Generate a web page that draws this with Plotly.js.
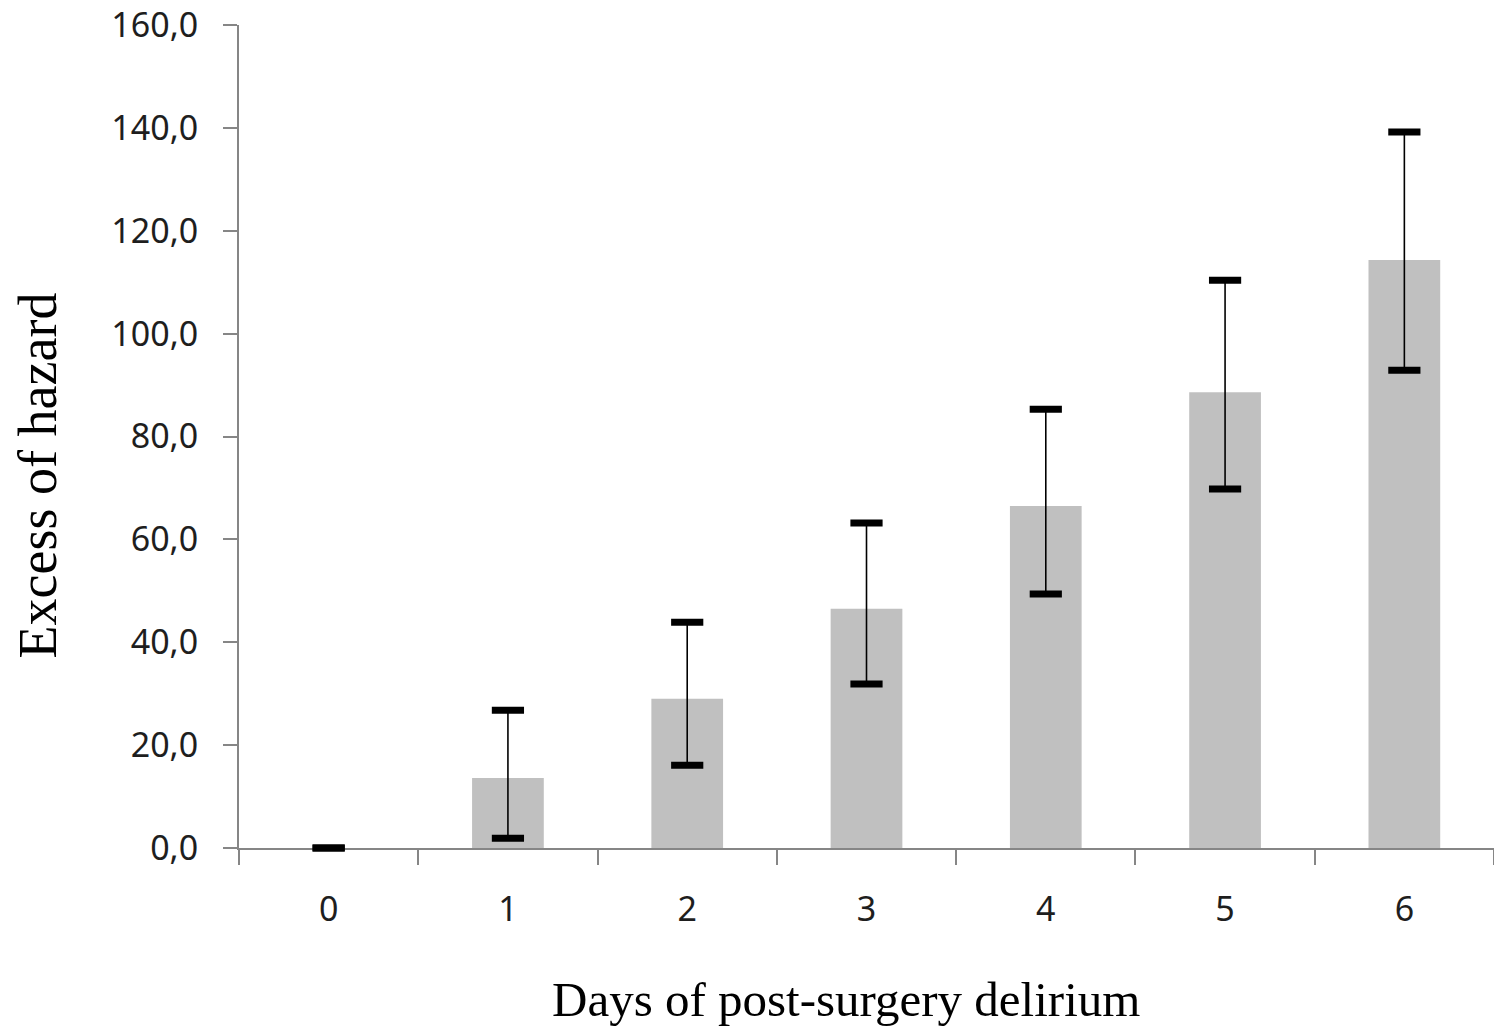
<!DOCTYPE html>
<html>
<head>
<meta charset="utf-8">
<script src="https://cdn.plot.ly/plotly-3.0.1.min.js"></script>
<style>html,body{margin:0;padding:0;background:#fff;}#chart{width:1494px;height:1031px;}</style>
</head>
<body>
<div id="chart"></div>
<script>
const days = ["0", "1", "2", "3", "4", "5", "6"];
const excessHazard = [0, 13.6, 29.0, 46.5, 66.5, 88.6, 114.3];
const upperCI = [0, 26.8, 43.9, 63.2, 85.3, 110.4, 139.2];
const lowerCI = [0, 1.9, 16.1, 31.9, 49.4, 69.8, 92.9];
const yTicks = [0, 20, 40, 60, 80, 100, 120, 140, 160];
const xTitle = "Days of post-surgery delirium";
const yTitle = "Excess of hazard";

const bars = {
  type: "bar",
  x: days,
  y: excessHazard,
  width: 0.4,
  marker: {color: "#c0c0c0"},
  error_y: {
    type: "data",
    array: excessHazard.map((v, i) => upperCI[i] - v),
    arrayminus: excessHazard.map((v, i) => v - lowerCI[i]),
    visible: true,
    color: "#000000",
    thickness: 1.6,
    width: 0
  },
  hoverinfo: "skip",
  showlegend: false
};

const caps = {
  type: "scatter",
  mode: "markers",
  x: days.concat(days),
  y: upperCI.concat(lowerCI),
  marker: {symbol: "line-ew", size: 23, color: "#000", line: {color: "#000", width: 7}},
  hoverinfo: "skip",
  showlegend: false,
  cliponaxis: false
};

const tickFont = {family: "Noto Sans, Open Sans, sans-serif", size: 34, color: "#1e1e1e"};
const serif = "Liberation Serif, DejaVu Serif, serif";

const layout = {
  width: 1494,
  height: 1031,
  margin: {l: 239, r: 0, t: 25, b: 183},
  paper_bgcolor: "#fff",
  plot_bgcolor: "#fff",
  separators: ",.",
  showlegend: false,
  xaxis: {
    type: "category",
    range: [-0.5, 6.5],
    tickson: "boundaries",
    ticks: "outside",
    ticklen: 15,
    tickwidth: 2,
    tickcolor: "#868686",
    showline: true,
    linecolor: "#868686",
    linewidth: 2,
    layer: "below traces",
    showgrid: false,
    zeroline: false,
    tickfont: tickFont,
    ticklabelstandoff: 30
  },
  yaxis: {
    range: [0, 160],
    tickvals: yTicks,
    tickformat: ".1f",
    ticks: "outside",
    ticklen: 14,
    tickwidth: 2,
    tickcolor: "#868686",
    showline: true,
    linecolor: "#868686",
    linewidth: 2,
    layer: "below traces",
    showgrid: false,
    zeroline: false,
    tickfont: tickFont,
    ticklabelstandoff: 18
  },
  annotations: [
    {text: xTitle, xref: "paper", yref: "paper", x: 0.4837, y: -0.1835,
     xanchor: "center", yanchor: "middle", showarrow: false,
     font: {family: serif, size: 49, color: "#000"}},
    {text: yTitle, xref: "paper", yref: "paper", x: -0.160, y: 0.453,
     xanchor: "center", yanchor: "middle", showarrow: false, textangle: -90,
     font: {family: serif, size: 54, color: "#000"}}
  ]
};

Plotly.newPlot("chart", [bars, caps], layout, {displayModeBar: false, staticPlot: true});
</script>
</body>
</html>
